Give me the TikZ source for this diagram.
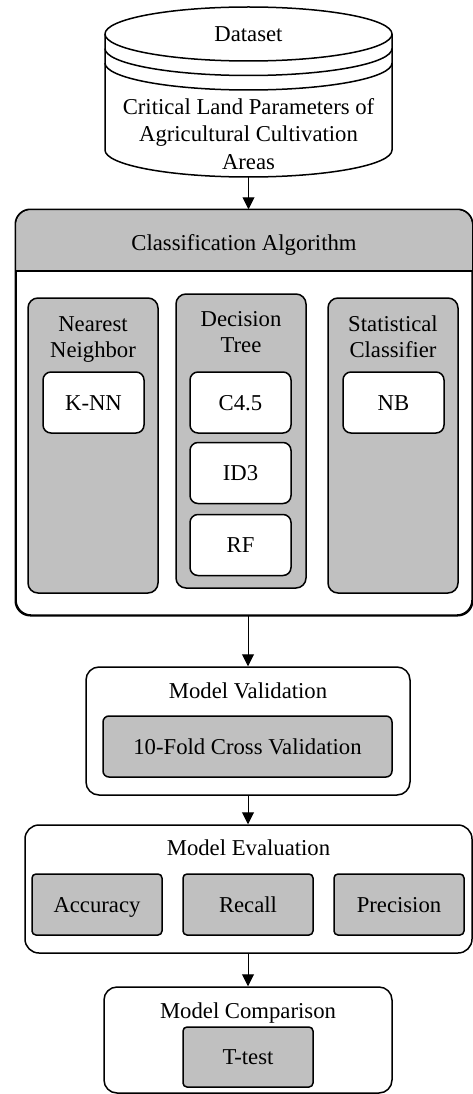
\documentclass[tikz,border=0pt]{standalone}
\usepackage{fontspec}
\setmainfont{Liberation Serif}
\usetikzlibrary{arrows.meta}
\definecolor{boxgray}{HTML}{C0C0C0}
\tikzset{
  lbl/.style={font=\fontsize{22.7}{27}\selectfont, inner sep=0pt, anchor=base},
  frame/.style={draw, line width=1.5pt, inner sep=0pt, rounded corners=#1},
  frame/.default=14pt,
  whitebox/.style={frame=8pt, fill=white, font=\fontsize{22.7}{27}\selectfont, text height=15pt, text depth=0pt},
  graybox/.style={frame=#1, fill=boxgray, font=\fontsize{22.7}{27}\selectfont, text height=15pt, text depth=0pt},
  graybox/.default=4pt,
  conn/.style={line width=1pt, -{Triangle[length=12pt,width=12pt]}}
}
\begin{document}
\begin{tikzpicture}[x=1pt,y=-1pt]
\useasboundingbox (0,0) rectangle (473,1094);
% ---------- Dataset cylinder ----------
\node[inner sep=0pt, minimum width=287pt, minimum height=170pt] (ds) at (248.5,92) {};
\draw[line width=1.5pt, fill=white] (105,34) -- (105,150)
  arc[start angle=180, end angle=0, x radius=143.5, y radius=27] -- (392,34)
  arc[start angle=0, end angle=-180, x radius=143.5, y radius=27] -- cycle;
\draw[line width=1.5pt] (105,34) arc[start angle=180, end angle=0, x radius=143.5, y radius=27];
\draw[line width=1.5pt] (105,48.5) arc[start angle=180, end angle=0, x radius=143.5, y radius=27];
\draw[line width=1.5pt] (105,63) arc[start angle=180, end angle=0, x radius=143.5, y radius=27];
\node[lbl] (dst) at (248.5,42) {Dataset};
\node[lbl] (ds1) at (248.5,114.5) {Critical Land Parameters of};
\node[lbl] (ds2) at (248.5,142) {Agricultural Cultivation};
\node[lbl] (ds3) at (248.5,169.5) {Areas};
% ---------- Classification Algorithm ----------
\node[frame=15pt, fill=white, minimum width=456pt, minimum height=405pt] (ca) at (244,412.5) {};
\fill[boxgray] (16,271) [rounded corners=15pt] -- (16,210) -- (472,210) [sharp corners] -- (472,271) -- cycle;
\draw[line width=1.5pt] (16,271) -- (472,271);
\draw[line width=1.5pt, rounded corners=15pt] (ca.south west) rectangle (ca.north east);
\node[lbl] (cat) at (244,250) {Classification Algorithm};
% columns
\node[graybox=10pt, minimum width=130pt, minimum height=295pt] (nn) at (93,445.5) {};
\node[graybox=10pt, minimum width=130pt, minimum height=294pt] (dt) at (241,441) {};
\node[graybox=10pt, minimum width=130pt, minimum height=295pt] (sc) at (393,445.5) {};
\node[lbl] (nn1) at (93,331) {Nearest};
\node[lbl] (nn2) at (93,357.5) {Neighbor};
\node[lbl] (dt1) at (241,326) {Decision};
\node[lbl] (dt2) at (241,352.5) {Tree};
\node[lbl] (sc1) at (393,331) {Statistical};
\node[lbl] (sc2) at (393,357.5) {Classifier};
\node[whitebox, minimum width=101pt, minimum height=61pt] (knn) at (93.5,402.5) {K-NN};
\node[whitebox, minimum width=101pt, minimum height=61pt] (c45) at (240.5,402.5) {C4.5};
\node[whitebox, minimum width=101pt, minimum height=61pt] (id3) at (240.5,473) {ID3};
\node[whitebox, minimum width=101pt, minimum height=61pt] (rf) at (240.5,545) {RF};
\node[whitebox, minimum width=101pt, minimum height=61pt] (nb) at (393.5,402.5) {NB};
% ---------- Model Validation ----------
\node[frame=13pt, fill=white, minimum width=324pt, minimum height=128pt] (mv) at (248,731) {};
\node[lbl] (mvt) at (248,698) {Model Validation};
\node[graybox=6pt, minimum width=289pt, minimum height=61pt] (cv) at (247.5,746.5) {10-Fold Cross Validation};
% ---------- Model Evaluation ----------
\node[frame=14pt, fill=white, minimum width=447pt, minimum height=128pt] (me) at (248.5,889) {};
\node[lbl] (met) at (248.5,855) {Model Evaluation};
\node[graybox, minimum width=130pt, minimum height=61pt] (acc) at (97,904.5) {Accuracy};
\node[graybox, minimum width=130pt, minimum height=61pt] (rec) at (248,904.5) {Recall};
\node[graybox, minimum width=130pt, minimum height=61pt] (pre) at (399,904.5) {Precision};
% ---------- Model Comparison ----------
\node[frame=13pt, fill=white, minimum width=288pt, minimum height=106pt] (mc) at (248,1040) {};
\node[lbl] (mct) at (248,1018) {Model Comparison};
\node[graybox, minimum width=130pt, minimum height=60pt] (tt) at (248,1057) {T-test};
% ---------- connectors ----------
\draw[conn] (ds.south) -- (ds.south |- ca.north);
\draw[conn] (mv.north |- ca.south) -- (mv.north);
\draw[conn] (mv.south) -- (mv.south |- me.north);
\draw[conn] (mc.north |- me.south) -- (mc.north);
\end{tikzpicture}
\end{document}
